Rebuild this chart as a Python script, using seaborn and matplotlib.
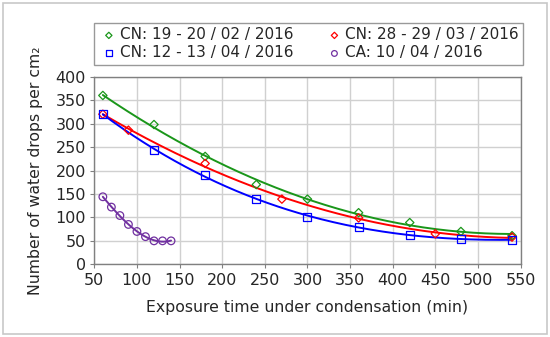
import numpy as np
import pandas as pd
import seaborn as sns
import matplotlib.pyplot as plt
from matplotlib.patches import Rectangle

# data
labels = ["CN: 19 - 20 / 02 / 2016", "CN: 28 - 29 / 03 / 2016",
          "CN: 12 - 13 / 04 / 2016", "CA: 10 / 04 / 2016"]

x_feb = [60, 120, 180, 240, 300, 360, 420, 480, 540]
y_feb = [360, 298, 230, 170, 139, 110, 89, 70, 61]

x_mar = [60, 90, 180, 270, 360, 450, 540]
y_mar = [320, 286, 215, 139, 99, 65, 58]

x_apr = [60, 120, 180, 240, 300, 360, 420, 480, 540]
y_apr = [320, 244, 190, 140, 100, 80, 63, 54, 52]

x_ca = [60, 70, 80, 90, 100, 110, 120, 130, 140]
y_ca = [144, 122, 104, 85, 70, 59, 50, 50, 50]

colors = ["#1a961a", "#ff0000", "#0000ff", "#7030a0"]
markers = ["D", "D", "s", "o"]
msizes = [18, 18, 34, 30]
degrees = [2, 2, 3, 3]

series = [(x_feb, y_feb), (x_mar, y_mar), (x_apr, y_apr), (x_ca, y_ca)]

sns.set_style("whitegrid")
plt.rcParams['font.family'] = ['DejaVu Sans']

fig = plt.figure(figsize=(5.5, 3.37), dpi=100)
ax = fig.add_axes([0.1715, 0.2157, 0.775, 0.5567])

handles = []
for (xs, ys), lab, c, m, ms, d in zip(series, labels, colors, markers, msizes, degrees):
    df = pd.DataFrame({"x": xs, "y": ys})
    # trendline (polynomial fit like the spreadsheet)
    coef = np.polyfit(df["x"], df["y"], d)
    xf = np.linspace(min(xs), max(xs), 200)
    fit = pd.DataFrame({"x": xf, "y": np.polyval(coef, xf)})
    sns.lineplot(data=fit, x="x", y="y", color=c, lw=1.4, ax=ax, legend=False)
    h = ax.scatter(df["x"], df["y"], marker=m, s=ms, facecolors="none",
                   edgecolors=c, linewidths=0.9, zorder=3, label=lab)
    handles.append(h)

ax.set_xlim(50, 550)
ax.set_ylim(0, 400)
ax.set_xticks(range(50, 551, 50))
ax.set_yticks(range(0, 401, 50))
ax.grid(True, color="#d0d0d0", lw=1)
for s in ax.spines.values():
    s.set_color("#808080")
    s.set_linewidth(1)
ax.tick_params(axis="both", labelsize=11.5, length=3, color="#808080",
               direction="out", left=True, bottom=True, pad=3)
ax.set_xlabel("Exposure time under condensation (min)", fontsize=11.3, labelpad=9)
ax.set_ylabel("Number of water drops per cm₂", fontsize=11.3, labelpad=9)

# legend filled row by row
order = [0, 2, 1, 3]
leg = fig.legend(handles=[handles[i] for i in order], labels=[labels[i] for i in order],
                 ncol=2, mode="expand",
                 bbox_to_anchor=(0.1715, 0.807, 0.78, 0.13), loc="lower left",
                 fontsize=11, frameon=True, fancybox=False, handletextpad=0.05,
                 borderaxespad=0, handlelength=1.3, markerscale=0.75,
                 borderpad=0.3, labelspacing=0.2, columnspacing=0.8)
leg.get_frame().set_edgecolor("#808080")
leg.get_frame().set_linewidth(1)

fig.patches.append(Rectangle((0.006, 0.009), 0.988, 0.982, transform=fig.transFigure,
                             fill=False, edgecolor="#c8c8c8", lw=1.2))

fig.savefig("out.png", dpi=100)
